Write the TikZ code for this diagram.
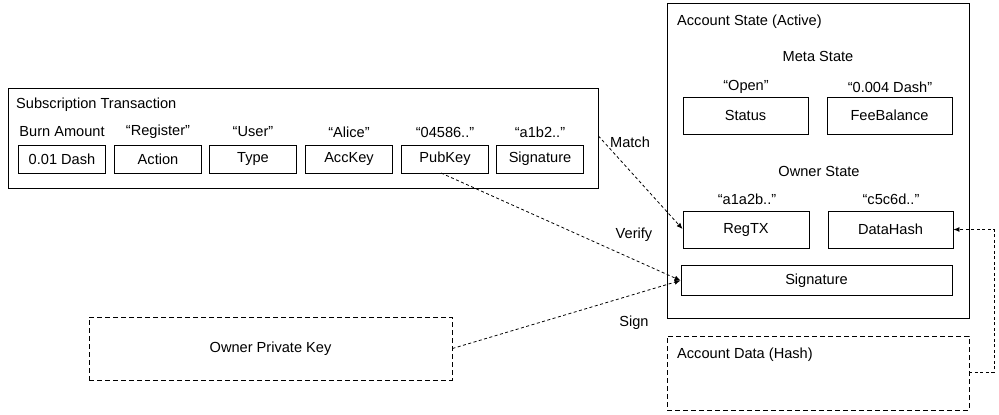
\documentclass[tikz,border=0pt]{standalone}
\usepackage{fontspec}
\setmainfont{Liberation Sans}
\usetikzlibrary{arrows.meta}
\begin{document}
\begin{tikzpicture}[x=1pt,y=-1pt,
  font=\fontsize{14.6}{17}\selectfont,
  box/.style={draw,line width=0.9pt,inner sep=0pt},
  dbox/.style={draw,line width=0.9pt,inner sep=0pt,dash pattern=on 5pt off 3pt},
  conn/.style={line width=0.8pt,dash pattern=on 3pt off 2.5pt,-{Latex[length=6pt,width=5pt]}},
  lbl/.style={inner sep=0pt}]
\useasboundingbox (0,0) rectangle (999,415);
% Subscription transaction
\node[box,minimum width=590pt,minimum height=100pt] (sub) at (303,138) {};
\node[lbl,anchor=west] (subt) at (16,105) {Subscription Transaction};
\foreach \nm/\cx/\top/\txt in {b1/62/Burn Amount/0.01 Dash, b2/158/“Register”/Action, b3/253/“User”/Type, b4/349/“Alice”/AccKey, b5/445/“04586..”/PubKey, b6/540/“a1b2..”/Signature}{
  \node[box,minimum width=87pt,minimum height=28pt] (\nm) at (\cx,159) {\txt};
  \node[lbl] (\nm l) at (\cx,132) {\top};
}
% Account state
\node[box,minimum width=302pt,minimum height=315pt] (acc) at (818,160.5) {};
\node[lbl,anchor=west] (acct) at (677,22) {Account State (Active)};
\node[lbl] (meta) at (818,56) {Meta State};
\node[lbl] (openl) at (746,87) {“Open”};
\node[lbl] (feel) at (890,87) {“0.004 Dash”};
\node[box,minimum width=125pt,minimum height=37pt] (status) at (745.5,115.5) {Status};
\node[box,minimum width=125pt,minimum height=37pt] (fee) at (889.5,115.5) {FeeBalance};
\node[lbl] (owner) at (819,171) {Owner State};
\node[lbl] (regl) at (747,199) {“a1a2b..”};
\node[lbl] (dhl) at (891,199) {“c5c6d..”};
\node[box,minimum width=126pt,minimum height=37pt] (regtx) at (746,229.5) {RegTX};
\node[box,minimum width=125pt,minimum height=37pt] (dh) at (890.5,229.5) {DataHash};
\node[box,minimum width=271pt,minimum height=30pt] (sig) at (816.5,280.5) {Signature};
% Account data
\node[dbox,minimum width=302pt,minimum height=74pt] (data) at (818,373) {};
\node[lbl,anchor=west] (datat) at (677,355) {Account Data (Hash)};
% Owner private key
\node[dbox,minimum width=363pt,minimum height=63pt] (opk) at (270.5,348.5) {Owner Private Key};
% connectors
\draw[conn] (sub.east |- 0,136) -- (regtx.west |- 0,229);
\node[lbl] (match) at (630,142) {Match};
\draw[conn] (441,173) -- (sig.west);
\node[lbl] (verify) at (634,235) {Verify};
\draw[conn] (opk.east) -- (sig.west);
\node[lbl] (sign) at (634,323) {Sign};
\coordinate (c1) at (994,372);
\coordinate (c2) at (994,229.5);
\draw[conn] (data.east |- c1) -- (c1) -- (c2) -- (dh.east);
\end{tikzpicture}
\end{document}
